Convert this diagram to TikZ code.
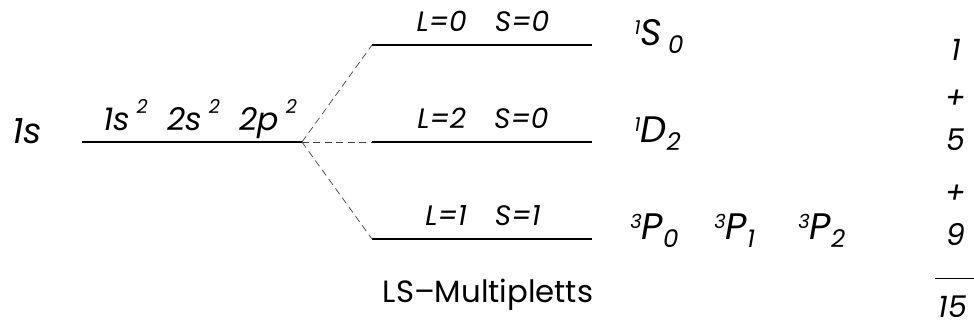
\documentclass[tikz,border=0pt]{standalone}
\usepackage{fontspec}
\setmainfont{Poppins}
\newcommand{\hoch}[1]{\raisebox{9.5pt}{\fontsize{11}{11}\selectfont #1}}
\newcommand{\Term}[3]{\fontsize{21}{21}\selectfont\raisebox{5.7pt}{\fontsize{11}{11}\selectfont #1}#2\raisebox{-5pt}{\fontsize{14}{14}\selectfont #3}}
\begin{document}
\begin{tikzpicture}[x=0.02cm,y=-0.02cm,inner sep=0pt,
  niveau/.style={line width=1.1pt},
  aufspaltung/.style={thin,gray!50!black,dash pattern=on 4pt off 2.5pt},
  beschr/.style={font=\itshape\fontsize{16}{18}\selectfont,anchor=base},
  summe/.style={font=\itshape\fontsize{17}{19}\selectfont}]
  \useasboundingbox(0,0)rectangle(974,326);
  \coordinate(g1)at(82,142);
  \coordinate(g2)at(302,142);
  \draw[niveau](g1)--(g2);
  \node[beschr,anchor=base west,font=\itshape\fontsize{20}{22}\selectfont](einzel)at(12,143){1s};
  \node[beschr,font=\itshape\fontsize{18}{20}\selectfont](konfig)at(200,130){1s\hspace{4pt}\hoch{2}\hspace{11pt}2s\hspace{4pt}\hoch{2}\hspace{11pt}2p\hspace{4pt}\hoch{2}};
  \foreach \n/\y/\L/\S in {a/45/0/0,b/142/2/0,c/239/1/1}
  {
    \coordinate(\n1)at(372,\y);
    \coordinate(\n2)at(592,\y);
    \draw[niveau](\n1)--(\n2);
    \draw[aufspaltung](g2)--(\n1);
    \node[beschr](\n L)at(483,\y-14){L=\L\quad S=\S};
  }
  \node[anchor=base west](tS)at(634,45){\itshape\Term{1}{S\,}{0}};
  \node[anchor=base west](tD)at(634,142){\itshape\Term{1}{D}{2}};
  \foreach \x/\j in {630/0,714/1,798/2}
  {
    \node[anchor=base west](tP\j)at(\x,239){\itshape\Term{3}{P}{\j}};
  }
  \node[summe,anchor=base](s1)at(956,60){1};
  \node[summe](p1)at(956,99){+};
  \node[summe,anchor=base](s5)at(956,150){5};
  \node[summe](p2)at(956,194){+};
  \node[summe,anchor=base](s9)at(956,245){9};
  \draw[thin](935,278)--(974,278);
  \node[summe,anchor=base](s15)at(953,317){15};
  \node[anchor=base,font=\fontsize{17.5}{20}\selectfont](titel)at(488,302){LS--Multipletts};
\end{tikzpicture}
\end{document}
